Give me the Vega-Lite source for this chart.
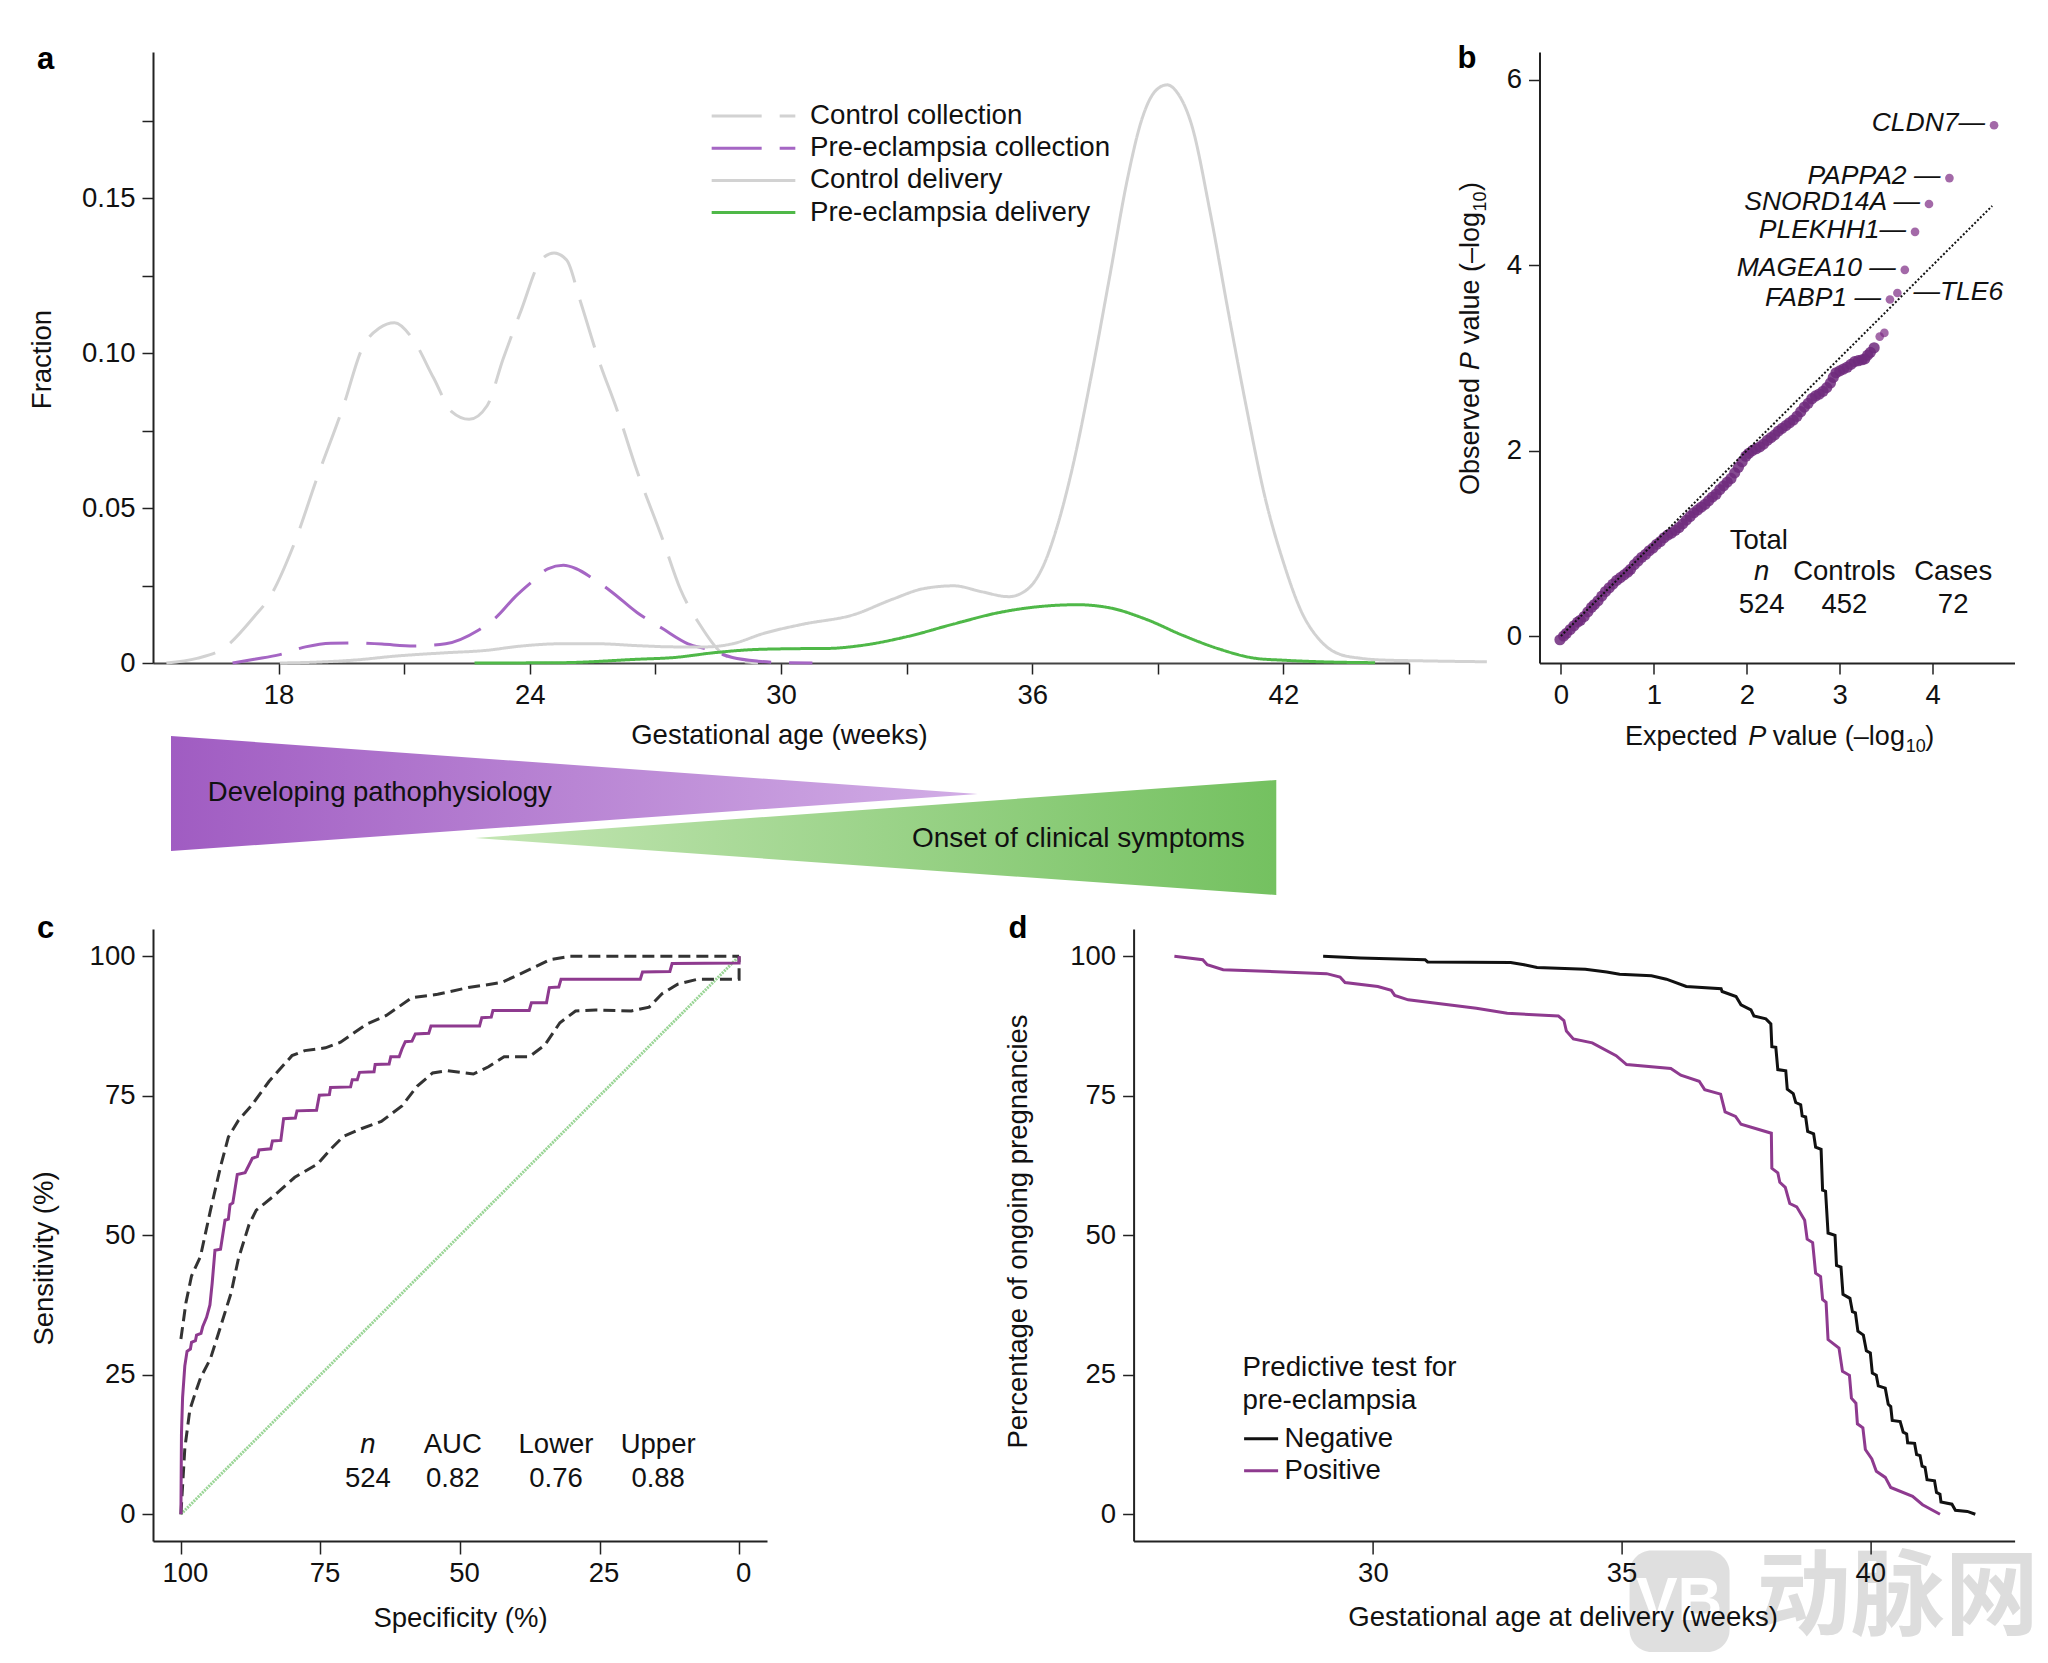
{
  "$schema": "https://vega.github.io/schema/vega-lite/v6.json",
  "padding": {"left": 28, "top": 43, "right": 0, "bottom": 0},
  "background": "white",
  "spacing": 17,
  "resolve": {
    "scale": {"color": "independent", "strokeDash": "independent"},
    "legend": {"color": "independent", "strokeDash": "independent"}
  },
  "config": {
    "font": "Liberation Sans",
    "view": {"stroke": null},
    "axis": {
      "grid": false,
      "domainColor": "#222222",
      "domainWidth": 2,
      "tickColor": "#222222",
      "tickWidth": 1.5,
      "tickSize": 11,
      "labelFontSize": 27.5,
      "labelColor": "#111111",
      "labelPadding": 7,
      "labelFlush": false,
      "labelOverlap": false,
      "titleFontSize": 27.5,
      "titleFontWeight": "normal",
      "titleColor": "#111111",
      "titleBaseline": "middle"
    },
    "text": {"fontSize": 27.5, "color": "#111111"},
    "title": {"fontSize": 31, "fontWeight": "bold", "color": "#000000", "anchor": "start", "frame": "group", "baseline": "alphabetic", "offset": 0}
  },
  "datasets": {
    "densities": [
      {"series": "Control collection", "week": 15.32, "fraction": 0},
      {"series": "Control collection", "week": 16.05, "fraction": 0.0015},
      {"series": "Control collection", "week": 16.66, "fraction": 0.0045},
      {"series": "Control collection", "week": 17.42, "fraction": 0.015},
      {"series": "Control collection", "week": 17.8, "fraction": 0.0215},
      {"series": "Control collection", "week": 18.33, "fraction": 0.037},
      {"series": "Control collection", "week": 18.94, "fraction": 0.0605},
      {"series": "Control collection", "week": 19.55, "fraction": 0.083},
      {"series": "Control collection", "week": 20.0, "fraction": 0.1016},
      {"series": "Control collection", "week": 20.4, "fraction": 0.108},
      {"series": "Control collection", "week": 20.77, "fraction": 0.1098},
      {"series": "Control collection", "week": 21.2, "fraction": 0.1046},
      {"series": "Control collection", "week": 21.7, "fraction": 0.092},
      {"series": "Control collection", "week": 22.14, "fraction": 0.081},
      {"series": "Control collection", "week": 22.55, "fraction": 0.0786},
      {"series": "Control collection", "week": 22.98, "fraction": 0.083},
      {"series": "Control collection", "week": 23.36, "fraction": 0.098},
      {"series": "Control collection", "week": 23.8, "fraction": 0.114},
      {"series": "Control collection", "week": 24.27, "fraction": 0.13},
      {"series": "Control collection", "week": 24.58, "fraction": 0.1323},
      {"series": "Control collection", "week": 24.88, "fraction": 0.13},
      {"series": "Control collection", "week": 25.2, "fraction": 0.117},
      {"series": "Control collection", "week": 25.64, "fraction": 0.098},
      {"series": "Control collection", "week": 26.1, "fraction": 0.081},
      {"series": "Control collection", "week": 26.56, "fraction": 0.062},
      {"series": "Control collection", "week": 27.17, "fraction": 0.04},
      {"series": "Control collection", "week": 27.6, "fraction": 0.0237},
      {"series": "Control collection", "week": 28.08, "fraction": 0.012},
      {"series": "Control collection", "week": 28.54, "fraction": 0.0037},
      {"series": "Control collection", "week": 29.0, "fraction": 0.0007},
      {"series": "Control collection", "week": 29.45, "fraction": 0},
      {"series": "Pre-eclampsia collection", "week": 16.9, "fraction": 0},
      {"series": "Pre-eclampsia collection", "week": 17.42, "fraction": 0.0012},
      {"series": "Pre-eclampsia collection", "week": 18.03, "fraction": 0.0027},
      {"series": "Pre-eclampsia collection", "week": 18.64, "fraction": 0.0052},
      {"series": "Pre-eclampsia collection", "week": 19.25, "fraction": 0.0064},
      {"series": "Pre-eclampsia collection", "week": 19.86, "fraction": 0.0065},
      {"series": "Pre-eclampsia collection", "week": 20.47, "fraction": 0.0061},
      {"series": "Pre-eclampsia collection", "week": 21.23, "fraction": 0.0055},
      {"series": "Pre-eclampsia collection", "week": 21.99, "fraction": 0.0062},
      {"series": "Pre-eclampsia collection", "week": 22.75, "fraction": 0.0104},
      {"series": "Pre-eclampsia collection", "week": 23.2, "fraction": 0.0148},
      {"series": "Pre-eclampsia collection", "week": 23.66, "fraction": 0.0215},
      {"series": "Pre-eclampsia collection", "week": 24.12, "fraction": 0.027},
      {"series": "Pre-eclampsia collection", "week": 24.43, "fraction": 0.0304},
      {"series": "Pre-eclampsia collection", "week": 24.8, "fraction": 0.0315},
      {"series": "Pre-eclampsia collection", "week": 25.11, "fraction": 0.0304},
      {"series": "Pre-eclampsia collection", "week": 25.49, "fraction": 0.0274},
      {"series": "Pre-eclampsia collection", "week": 25.95, "fraction": 0.023},
      {"series": "Pre-eclampsia collection", "week": 26.56, "fraction": 0.0163},
      {"series": "Pre-eclampsia collection", "week": 27.17, "fraction": 0.0111},
      {"series": "Pre-eclampsia collection", "week": 27.78, "fraction": 0.0062},
      {"series": "Pre-eclampsia collection", "week": 28.23, "fraction": 0.0045},
      {"series": "Pre-eclampsia collection", "week": 28.84, "fraction": 0.0018},
      {"series": "Pre-eclampsia collection", "week": 29.45, "fraction": 0.0006},
      {"series": "Pre-eclampsia collection", "week": 30.06, "fraction": 0.0001},
      {"series": "Pre-eclampsia collection", "week": 30.75, "fraction": 0},
      {"series": "Control delivery", "week": 18.03, "fraction": 0},
      {"series": "Control delivery", "week": 18.94, "fraction": 0.0003},
      {"series": "Control delivery", "week": 19.86, "fraction": 0.001},
      {"series": "Control delivery", "week": 20.77, "fraction": 0.0022},
      {"series": "Control delivery", "week": 21.99, "fraction": 0.0033},
      {"series": "Control delivery", "week": 22.9, "fraction": 0.004},
      {"series": "Control delivery", "week": 23.82, "fraction": 0.0055},
      {"series": "Control delivery", "week": 24.73, "fraction": 0.0062},
      {"series": "Control delivery", "week": 25.64, "fraction": 0.0062},
      {"series": "Control delivery", "week": 26.56, "fraction": 0.0056},
      {"series": "Control delivery", "week": 27.47, "fraction": 0.0052},
      {"series": "Control delivery", "week": 28.23, "fraction": 0.0052},
      {"series": "Control delivery", "week": 28.84, "fraction": 0.0062},
      {"series": "Control delivery", "week": 29.6, "fraction": 0.0096},
      {"series": "Control delivery", "week": 30.52, "fraction": 0.0125},
      {"series": "Control delivery", "week": 31.74, "fraction": 0.0156},
      {"series": "Control delivery", "week": 32.65, "fraction": 0.0205},
      {"series": "Control delivery", "week": 33.41, "fraction": 0.024},
      {"series": "Control delivery", "week": 34.13, "fraction": 0.0249},
      {"series": "Control delivery", "week": 34.79, "fraction": 0.023},
      {"series": "Control delivery", "week": 35.44, "fraction": 0.0214},
      {"series": "Control delivery", "week": 35.88, "fraction": 0.0237},
      {"series": "Control delivery", "week": 36.26, "fraction": 0.0312},
      {"series": "Control delivery", "week": 36.64, "fraction": 0.046},
      {"series": "Control delivery", "week": 36.97, "fraction": 0.0635},
      {"series": "Control delivery", "week": 37.41, "fraction": 0.0925},
      {"series": "Control delivery", "week": 37.85, "fraction": 0.1246},
      {"series": "Control delivery", "week": 38.28, "fraction": 0.1565},
      {"series": "Control delivery", "week": 38.61, "fraction": 0.175},
      {"series": "Control delivery", "week": 38.94, "fraction": 0.1845},
      {"series": "Control delivery", "week": 39.22, "fraction": 0.1865},
      {"series": "Control delivery", "week": 39.49, "fraction": 0.1835},
      {"series": "Control delivery", "week": 39.81, "fraction": 0.1735},
      {"series": "Control delivery", "week": 40.25, "fraction": 0.1454},
      {"series": "Control delivery", "week": 40.69, "fraction": 0.1128},
      {"series": "Control delivery", "week": 41.13, "fraction": 0.0815},
      {"series": "Control delivery", "week": 41.56, "fraction": 0.0535},
      {"series": "Control delivery", "week": 42.0, "fraction": 0.0325},
      {"series": "Control delivery", "week": 42.44, "fraction": 0.0163},
      {"series": "Control delivery", "week": 42.87, "fraction": 0.0074},
      {"series": "Control delivery", "week": 43.31, "fraction": 0.003},
      {"series": "Control delivery", "week": 43.86, "fraction": 0.0015},
      {"series": "Control delivery", "week": 44.3, "fraction": 0.001},
      {"series": "Control delivery", "week": 45.28, "fraction": 0.0007},
      {"series": "Control delivery", "week": 46.86, "fraction": 0.0004},
      {"series": "Pre-eclampsia delivery", "week": 22.68, "fraction": 0},
      {"series": "Pre-eclampsia delivery", "week": 24.73, "fraction": 0.0001},
      {"series": "Pre-eclampsia delivery", "week": 26.56, "fraction": 0.0012},
      {"series": "Pre-eclampsia delivery", "week": 27.47, "fraction": 0.0018},
      {"series": "Pre-eclampsia delivery", "week": 28.39, "fraction": 0.0033},
      {"series": "Pre-eclampsia delivery", "week": 29.3, "fraction": 0.0043},
      {"series": "Pre-eclampsia delivery", "week": 30.21, "fraction": 0.0046},
      {"series": "Pre-eclampsia delivery", "week": 31.13, "fraction": 0.0047},
      {"series": "Pre-eclampsia delivery", "week": 31.89, "fraction": 0.0056},
      {"series": "Pre-eclampsia delivery", "week": 33.04, "fraction": 0.0086},
      {"series": "Pre-eclampsia delivery", "week": 34.13, "fraction": 0.0126},
      {"series": "Pre-eclampsia delivery", "week": 35.22, "fraction": 0.0163},
      {"series": "Pre-eclampsia delivery", "week": 36.1, "fraction": 0.0181},
      {"series": "Pre-eclampsia delivery", "week": 37.08, "fraction": 0.0188},
      {"series": "Pre-eclampsia delivery", "week": 37.85, "fraction": 0.0178},
      {"series": "Pre-eclampsia delivery", "week": 38.72, "fraction": 0.0141},
      {"series": "Pre-eclampsia delivery", "week": 39.6, "fraction": 0.0089},
      {"series": "Pre-eclampsia delivery", "week": 40.47, "fraction": 0.0045},
      {"series": "Pre-eclampsia delivery", "week": 41.34, "fraction": 0.0015},
      {"series": "Pre-eclampsia delivery", "week": 42.0, "fraction": 0.0009},
      {"series": "Pre-eclampsia delivery", "week": 42.87, "fraction": 0.0004},
      {"series": "Pre-eclampsia delivery", "week": 44.19, "fraction": 0.0001}
    ],
    "qq": [
      {"x": -0.01, "y": -0.04}, {"x": 0.03, "y": 0}, {"x": 0.06, "y": 0.03}, {"x": 0.1, "y": 0.07}, {"x": 0.14, "y": 0.11},
      {"x": 0.18, "y": 0.15}, {"x": 0.21, "y": 0.17}, {"x": 0.25, "y": 0.21}, {"x": 0.29, "y": 0.26}, {"x": 0.33, "y": 0.31},
      {"x": 0.36, "y": 0.34}, {"x": 0.4, "y": 0.38}, {"x": 0.44, "y": 0.43}, {"x": 0.48, "y": 0.48}, {"x": 0.52, "y": 0.52},
      {"x": 0.56, "y": 0.56}, {"x": 0.6, "y": 0.6}, {"x": 0.64, "y": 0.63}, {"x": 0.68, "y": 0.66}, {"x": 0.72, "y": 0.69},
      {"x": 0.75, "y": 0.72}, {"x": 0.79, "y": 0.77}, {"x": 0.83, "y": 0.81}, {"x": 0.87, "y": 0.85}, {"x": 0.91, "y": 0.88},
      {"x": 0.95, "y": 0.92}, {"x": 0.99, "y": 0.95}, {"x": 1.03, "y": 0.99}, {"x": 1.07, "y": 1.02}, {"x": 1.11, "y": 1.06},
      {"x": 1.15, "y": 1.09}, {"x": 1.19, "y": 1.11}, {"x": 1.23, "y": 1.14}, {"x": 1.27, "y": 1.17}, {"x": 1.31, "y": 1.21},
      {"x": 1.35, "y": 1.25}, {"x": 1.39, "y": 1.29}, {"x": 1.43, "y": 1.33}, {"x": 1.47, "y": 1.36}, {"x": 1.51, "y": 1.39},
      {"x": 1.55, "y": 1.42}, {"x": 1.59, "y": 1.46}, {"x": 1.63, "y": 1.5}, {"x": 1.67, "y": 1.53}, {"x": 1.71, "y": 1.58},
      {"x": 1.75, "y": 1.62}, {"x": 1.79, "y": 1.66}, {"x": 1.83, "y": 1.7}, {"x": 1.87, "y": 1.76}, {"x": 1.91, "y": 1.82},
      {"x": 1.95, "y": 1.88}, {"x": 1.99, "y": 1.94}, {"x": 2.02, "y": 1.97}, {"x": 2.06, "y": 2}, {"x": 2.1, "y": 2.02},
      {"x": 2.14, "y": 2.04}, {"x": 2.18, "y": 2.07}, {"x": 2.22, "y": 2.11}, {"x": 2.26, "y": 2.14}, {"x": 2.3, "y": 2.17},
      {"x": 2.34, "y": 2.21}, {"x": 2.38, "y": 2.24}, {"x": 2.42, "y": 2.27}, {"x": 2.46, "y": 2.3}, {"x": 2.5, "y": 2.33},
      {"x": 2.54, "y": 2.37}, {"x": 2.58, "y": 2.42}, {"x": 2.62, "y": 2.47}, {"x": 2.66, "y": 2.51}, {"x": 2.7, "y": 2.56},
      {"x": 2.74, "y": 2.59}, {"x": 2.78, "y": 2.61}, {"x": 2.82, "y": 2.64}, {"x": 2.86, "y": 2.68}, {"x": 2.9, "y": 2.73},
      {"x": 2.93, "y": 2.79}, {"x": 2.96, "y": 2.84}, {"x": 3.0, "y": 2.86}, {"x": 3.04, "y": 2.88}, {"x": 3.08, "y": 2.9},
      {"x": 3.12, "y": 2.93}, {"x": 3.16, "y": 2.96}, {"x": 3.2, "y": 2.97}, {"x": 3.24, "y": 2.98}, {"x": 3.27, "y": 2.99},
      {"x": 3.3, "y": 3.03}, {"x": 3.33, "y": 3.06}, {"x": 3.37, "y": 3.11}, {"x": 3.43, "y": 3.23}, {"x": 3.48, "y": 3.27},
      {"x": 3.54, "y": 3.63}, {"x": 3.62, "y": 3.7}, {"x": 3.7, "y": 3.95}, {"x": 3.81, "y": 4.36}, {"x": 3.96, "y": 4.66},
      {"x": 4.18, "y": 4.94}, {"x": 4.66, "y": 5.51}
    ],
    "roc": [
      {"x": 100, "y": 0}, {"x": 99.9, "y": 14.4}, {"x": 99.7, "y": 20.9}, {"x": 99.3, "y": 26.6}, {"x": 98.9, "y": 29.2},
      {"x": 98.3, "y": 29.6}, {"x": 98.1, "y": 30.8}, {"x": 97.4, "y": 31.1}, {"x": 97.2, "y": 32.1}, {"x": 96.4, "y": 32.4},
      {"x": 96.1, "y": 33.6}, {"x": 95.4, "y": 35.3}, {"x": 94.8, "y": 37.5}, {"x": 94.4, "y": 41.4}, {"x": 93.9, "y": 47.3},
      {"x": 92.9, "y": 47.5}, {"x": 92.1, "y": 52.7}, {"x": 91.5, "y": 52.9}, {"x": 91.2, "y": 55.5}, {"x": 90.7, "y": 55.8},
      {"x": 89.9, "y": 60.9}, {"x": 88.5, "y": 61.2}, {"x": 87.8, "y": 62.6}, {"x": 87.2, "y": 63.8}, {"x": 86.3, "y": 64.1},
      {"x": 86, "y": 65.3}, {"x": 83.9, "y": 65.5}, {"x": 83.6, "y": 66.9}, {"x": 82.1, "y": 67}, {"x": 81.6, "y": 70.9},
      {"x": 79.5, "y": 71}, {"x": 79.2, "y": 72.3}, {"x": 75.7, "y": 72.4}, {"x": 75.2, "y": 75.1}, {"x": 73.4, "y": 75.2},
      {"x": 73.2, "y": 76.5}, {"x": 69.6, "y": 76.6}, {"x": 69.3, "y": 77.9}, {"x": 68.4, "y": 77.9}, {"x": 68, "y": 79.2},
      {"x": 65.4, "y": 79.3}, {"x": 65.2, "y": 80.6}, {"x": 62.7, "y": 80.7}, {"x": 62.4, "y": 82}, {"x": 60.9, "y": 82},
      {"x": 60.4, "y": 83.4}, {"x": 59.8, "y": 84.7}, {"x": 58.6, "y": 84.8}, {"x": 58, "y": 86.1}, {"x": 55.6, "y": 86.2},
      {"x": 55.2, "y": 87.5}, {"x": 46.5, "y": 87.5}, {"x": 46.1, "y": 89}, {"x": 44.4, "y": 89.1}, {"x": 44.1, "y": 90.3},
      {"x": 37.6, "y": 90.3}, {"x": 37.2, "y": 91.7}, {"x": 34.5, "y": 91.7}, {"x": 34, "y": 94.4}, {"x": 32.3, "y": 94.5},
      {"x": 31.9, "y": 95.9}, {"x": 17.7, "y": 95.9}, {"x": 17.3, "y": 97.2}, {"x": 12.4, "y": 97.3}, {"x": 12, "y": 98.7},
      {"x": 0, "y": 98.8}, {"x": 0, "y": 100}
    ],
    "rocUpper": [
      {"x": 100, "y": 31.4}, {"x": 99.1, "y": 37.9}, {"x": 98.1, "y": 42.7}, {"x": 96.5, "y": 46.2}, {"x": 94.7, "y": 54.5},
      {"x": 92.9, "y": 62.3}, {"x": 91.5, "y": 67.6}, {"x": 89.7, "y": 70.6}, {"x": 87.4, "y": 73.2}, {"x": 84.2, "y": 77.6},
      {"x": 80.1, "y": 82.2}, {"x": 77.8, "y": 83.1}, {"x": 74.1, "y": 83.6}, {"x": 71.4, "y": 84.6}, {"x": 66.8, "y": 87.8},
      {"x": 63.2, "y": 89.4}, {"x": 58.6, "y": 92.6}, {"x": 54, "y": 93.2}, {"x": 48.5, "y": 94.4}, {"x": 42.6, "y": 95.3},
      {"x": 37.6, "y": 97.6}, {"x": 33.9, "y": 99.4}, {"x": 30.3, "y": 100}, {"x": 0, "y": 100}
    ],
    "rocLower": [
      {"x": 100, "y": 0}, {"x": 99.3, "y": 11.8}, {"x": 98.4, "y": 18.7}, {"x": 97.4, "y": 21.8}, {"x": 96.5, "y": 24.4},
      {"x": 94.7, "y": 27.9}, {"x": 92.9, "y": 33.6}, {"x": 91, "y": 39.7}, {"x": 89.7, "y": 45.8}, {"x": 87.8, "y": 51.9},
      {"x": 86.5, "y": 54.5}, {"x": 83.3, "y": 57.1}, {"x": 79.6, "y": 60.4}, {"x": 75.5, "y": 62.8}, {"x": 73.2, "y": 65.4},
      {"x": 70.9, "y": 67.7}, {"x": 67.7, "y": 69.1}, {"x": 64.1, "y": 70.4}, {"x": 60.4, "y": 73.2}, {"x": 57.7, "y": 76.7},
      {"x": 54.9, "y": 79.1}, {"x": 52.2, "y": 79.5}, {"x": 47.6, "y": 78.9}, {"x": 44.9, "y": 80.2}, {"x": 42.1, "y": 82},
      {"x": 37.6, "y": 82}, {"x": 34.8, "y": 84.1}, {"x": 32.1, "y": 88.1}, {"x": 29.3, "y": 90.2}, {"x": 25.7, "y": 90.4},
      {"x": 19.3, "y": 90.2}, {"x": 16.1, "y": 90.9}, {"x": 13.8, "y": 93.3}, {"x": 11, "y": 95}, {"x": 7.4, "y": 95.9},
      {"x": 0, "y": 95.9}, {"x": 0, "y": 100}
    ],
    "ongoing": [
      {"test": "Negative", "x": 29, "y": 100}, {"test": "Negative", "x": 29.75, "y": 99.7}, {"test": "Negative", "x": 31.05, "y": 99.4},
      {"test": "Negative", "x": 31.1, "y": 99}, {"test": "Negative", "x": 32.77, "y": 98.9}, {"test": "Negative", "x": 33.04, "y": 98.5},
      {"test": "Negative", "x": 33.3, "y": 98}, {"test": "Negative", "x": 34.27, "y": 97.7}, {"test": "Negative", "x": 34.7, "y": 97.2},
      {"test": "Negative", "x": 34.96, "y": 96.8}, {"test": "Negative", "x": 35.6, "y": 96.5}, {"test": "Negative", "x": 35.9, "y": 95.9},
      {"test": "Negative", "x": 36.3, "y": 94.6}, {"test": "Negative", "x": 37, "y": 94.2}, {"test": "Negative", "x": 37.02, "y": 93.7},
      {"test": "Negative", "x": 37.3, "y": 92.8}, {"test": "Negative", "x": 37.4, "y": 91.3}, {"test": "Negative", "x": 37.6, "y": 90.4},
      {"test": "Negative", "x": 37.66, "y": 89.3}, {"test": "Negative", "x": 37.9, "y": 88.8}, {"test": "Negative", "x": 38, "y": 87.9},
      {"test": "Negative", "x": 38.02, "y": 83.8}, {"test": "Negative", "x": 38.1, "y": 83.7}, {"test": "Negative", "x": 38.14, "y": 79.7},
      {"test": "Negative", "x": 38.3, "y": 79.5}, {"test": "Negative", "x": 38.33, "y": 76.2}, {"test": "Negative", "x": 38.45, "y": 75.4},
      {"test": "Negative", "x": 38.5, "y": 73.8}, {"test": "Negative", "x": 38.6, "y": 73.4}, {"test": "Negative", "x": 38.63, "y": 71.4},
      {"test": "Negative", "x": 38.7, "y": 71.2}, {"test": "Negative", "x": 38.74, "y": 68.6}, {"test": "Negative", "x": 38.86, "y": 68.2},
      {"test": "Negative", "x": 38.9, "y": 65.8}, {"test": "Negative", "x": 39.01, "y": 65.4}, {"test": "Negative", "x": 39.04, "y": 58.1},
      {"test": "Negative", "x": 39.1, "y": 57.9}, {"test": "Negative", "x": 39.15, "y": 50.4}, {"test": "Negative", "x": 39.29, "y": 50},
      {"test": "Negative", "x": 39.32, "y": 44.6}, {"test": "Negative", "x": 39.41, "y": 44.3}, {"test": "Negative", "x": 39.45, "y": 39.4},
      {"test": "Negative", "x": 39.59, "y": 38.7}, {"test": "Negative", "x": 39.64, "y": 36.3}, {"test": "Negative", "x": 39.7, "y": 36.1},
      {"test": "Negative", "x": 39.75, "y": 32.8}, {"test": "Negative", "x": 39.86, "y": 32.1}, {"test": "Negative", "x": 39.92, "y": 29.3},
      {"test": "Negative", "x": 40, "y": 28.9}, {"test": "Negative", "x": 40.04, "y": 25.3}, {"test": "Negative", "x": 40.12, "y": 24.9},
      {"test": "Negative", "x": 40.16, "y": 23}, {"test": "Negative", "x": 40.3, "y": 22.6}, {"test": "Negative", "x": 40.36, "y": 19.7},
      {"test": "Negative", "x": 40.41, "y": 19.3}, {"test": "Negative", "x": 40.44, "y": 16.8}, {"test": "Negative", "x": 40.6, "y": 16.6},
      {"test": "Negative", "x": 40.66, "y": 14.7}, {"test": "Negative", "x": 40.73, "y": 14.4}, {"test": "Negative", "x": 40.75, "y": 12.8},
      {"test": "Negative", "x": 40.89, "y": 12.7}, {"test": "Negative", "x": 40.93, "y": 10.7}, {"test": "Negative", "x": 41, "y": 10.5},
      {"test": "Negative", "x": 41.04, "y": 8.6}, {"test": "Negative", "x": 41.1, "y": 8.4}, {"test": "Negative", "x": 41.14, "y": 6.2},
      {"test": "Negative", "x": 41.29, "y": 6}, {"test": "Negative", "x": 41.33, "y": 3.9}, {"test": "Negative", "x": 41.4, "y": 3.6},
      {"test": "Negative", "x": 41.42, "y": 2.2}, {"test": "Negative", "x": 41.64, "y": 1.8}, {"test": "Negative", "x": 41.71, "y": 0.7},
      {"test": "Negative", "x": 41.95, "y": 0.5}, {"test": "Negative", "x": 42.11, "y": 0},
      {"test": "Positive", "x": 26.01, "y": 100}, {"test": "Positive", "x": 26.58, "y": 99.4}, {"test": "Positive", "x": 26.67, "y": 98.5},
      {"test": "Positive", "x": 26.99, "y": 97.6}, {"test": "Positive", "x": 29.07, "y": 96.9}, {"test": "Positive", "x": 29.34, "y": 96.3},
      {"test": "Positive", "x": 29.44, "y": 95.3}, {"test": "Positive", "x": 30.1, "y": 94.6}, {"test": "Positive", "x": 30.37, "y": 93.9},
      {"test": "Positive", "x": 30.44, "y": 93}, {"test": "Positive", "x": 30.71, "y": 92.2}, {"test": "Positive", "x": 32.08, "y": 90.7},
      {"test": "Positive", "x": 32.7, "y": 89.8}, {"test": "Positive", "x": 33.73, "y": 89.3}, {"test": "Positive", "x": 33.84, "y": 88.5},
      {"test": "Positive", "x": 33.89, "y": 86.6}, {"test": "Positive", "x": 34.03, "y": 85.2}, {"test": "Positive", "x": 34.41, "y": 84.5},
      {"test": "Positive", "x": 34.89, "y": 82.2}, {"test": "Positive", "x": 35.1, "y": 80.6}, {"test": "Positive", "x": 35.99, "y": 79.9},
      {"test": "Positive", "x": 36.19, "y": 78.7}, {"test": "Positive", "x": 36.56, "y": 77.6}, {"test": "Positive", "x": 36.67, "y": 76.1},
      {"test": "Positive", "x": 36.99, "y": 75.3}, {"test": "Positive", "x": 37.08, "y": 72.1}, {"test": "Positive", "x": 37.29, "y": 71.3},
      {"test": "Positive", "x": 37.4, "y": 69.9}, {"test": "Positive", "x": 38.01, "y": 68.3}, {"test": "Positive", "x": 38.02, "y": 62},
      {"test": "Positive", "x": 38.14, "y": 61.2}, {"test": "Positive", "x": 38.18, "y": 59.5}, {"test": "Positive", "x": 38.29, "y": 58.6},
      {"test": "Positive", "x": 38.38, "y": 55.7}, {"test": "Positive", "x": 38.52, "y": 55.1}, {"test": "Positive", "x": 38.68, "y": 52.7},
      {"test": "Positive", "x": 38.73, "y": 49.3}, {"test": "Positive", "x": 38.84, "y": 48.7}, {"test": "Positive", "x": 38.9, "y": 43.2},
      {"test": "Positive", "x": 39, "y": 42.6}, {"test": "Positive", "x": 39.04, "y": 38.5}, {"test": "Positive", "x": 39.11, "y": 38},
      {"test": "Positive", "x": 39.15, "y": 31.3}, {"test": "Positive", "x": 39.37, "y": 29.8}, {"test": "Positive", "x": 39.44, "y": 25.6},
      {"test": "Positive", "x": 39.58, "y": 24.9}, {"test": "Positive", "x": 39.62, "y": 20.8}, {"test": "Positive", "x": 39.71, "y": 19.9},
      {"test": "Positive", "x": 39.74, "y": 16.2}, {"test": "Positive", "x": 39.85, "y": 15.5}, {"test": "Positive", "x": 39.9, "y": 11.6},
      {"test": "Positive", "x": 40.03, "y": 9.9}, {"test": "Positive", "x": 40.12, "y": 7.7}, {"test": "Positive", "x": 40.3, "y": 6.6},
      {"test": "Positive", "x": 40.41, "y": 4.8}, {"test": "Positive", "x": 40.85, "y": 3.2}, {"test": "Positive", "x": 41.05, "y": 1.7},
      {"test": "Positive", "x": 41.4, "y": 0}
    ]
  },
  "vconcat": [
    {
      "bounds": "flush",
      "spacing": 130.5,
      "resolve": {
        "scale": {"color": "independent", "strokeDash": "independent"},
        "legend": {"color": "independent", "strokeDash": "independent"}
      },
      "hconcat": [
        {
          "title": {"text": "a", "dx": -116, "dy": 28},
          "width": 1256,
          "height": 611,
          "encoding": {
            "x": {
              "field": "week", "type": "quantitative",
              "scale": {"domain": [15, 45], "nice": false, "zero": false},
              "axis": {
                "title": "Gestational age (weeks)", "titleX": 626, "titleY": 72,
                "values": [18, 21, 24, 27, 30, 33, 36, 39, 42, 45],
                "labelExpr": "datum.value % 6 == 0 ? datum.value : ''",
                "domainColor": "#444444"
              }
            },
            "y": {
              "field": "fraction", "type": "quantitative",
              "scale": {"domain": [0, 0.1971], "nice": false},
              "axis": {
                "title": "Fraction", "titleX": -111, "titleY": 307,
                "values": [0, 0.025, 0.05, 0.075, 0.1, 0.125, 0.15, 0.175],
                "labelExpr": "datum.value == 0 ? '0' : (round(datum.value * 1000) % 50 == 0 ? format(datum.value, '.2f') : '')"
              }
            }
          },
          "layer": [
            {
              "data": {"values": [
                {"week": 15.43, "fraction": -0.06065, "upper": -0.02355},
                {"week": 34.7, "fraction": -0.04226, "upper": -0.04226}
              ]},
              "mark": {
                "type": "area",
                "fill": {"gradient": "linear", "x1": 0, "x2": 1, "y1": 0, "y2": 0, "stops": [{"offset": 0, "color": "#a05cc2"}, {"offset": 1, "color": "#d2aee6"}]}
              },
              "encoding": {"y2": {"field": "upper"}}
            },
            {
              "data": {"values": [
                {"week": 22.69, "fraction": -0.05645, "upper": -0.05645},
                {"week": 41.83, "fraction": -0.07484, "upper": -0.03774}
              ]},
              "mark": {
                "type": "area",
                "fill": {"gradient": "linear", "x1": 0, "x2": 1, "y1": 0, "y2": 0, "stops": [{"offset": 0, "color": "#c4e6b4"}, {"offset": 1, "color": "#74c160"}]}
              },
              "encoding": {"y2": {"field": "upper"}}
            },
            {
              "data": {"values": [{"label": "Developing pathophysiology", "week": 16.31, "fraction": -0.04194}]},
              "mark": {"type": "text", "align": "left", "baseline": "middle"},
              "encoding": {"text": {"field": "label"}}
            },
            {
              "data": {"values": [{"label": "Onset of clinical symptoms", "week": 41.08, "fraction": -0.05677}]},
              "mark": {"type": "text", "align": "right", "baseline": "middle", "fontSize": 28},
              "encoding": {"text": {"field": "label"}}
            },
            {
              "data": {"name": "densities"},
              "mark": {"type": "line", "interpolate": "monotone", "strokeWidth": 3},
              "encoding": {
                "color": {
                  "field": "series", "type": "nominal",
                  "scale": {
                    "domain": ["Control collection", "Pre-eclampsia collection", "Control delivery", "Pre-eclampsia delivery"],
                    "range": ["#d2d2d2", "#a566c4", "#d2d2d2", "#4fb848"]
                  },
                  "legend": {
                    "title": null, "orient": "none", "legendX": 557, "legendY": 52,
                    "symbolType": "stroke", "symbolSize": 7000, "symbolStrokeWidth": 3,
                    "clipHeight": 24, "rowPadding": 4.2, "labelFontSize": 27.7, "labelColor": "#111111", "labelOffset": 13,
                    "labelLimit": 400,
                    "encoding": {"symbols": {"update": {"strokeDash": {"signal": "indexof(datum.value, 'collection') >= 0 ? [29, 27] : [1, 0]"}}}}
                  }
                },
                "strokeDash": {
                  "field": "series", "type": "nominal",
                  "scale": {
                    "domain": ["Control collection", "Pre-eclampsia collection", "Control delivery", "Pre-eclampsia delivery"],
                    "range": [[50, 18], [50, 18], [1, 0], [1, 0]]
                  },
                  "legend": null
                }
              }
            }
          ]
        },
        {
          "title": {"text": "b", "dx": -82, "dy": 27},
          "width": 475,
          "height": 611,
          "encoding": {
            "x": {
              "field": "x", "type": "quantitative",
              "scale": {"domain": [-0.23, 4.88], "nice": false, "zero": false},
              "axis": {"title": null, "values": [0, 1, 2, 3, 4]}
            },
            "y": {
              "field": "y", "type": "quantitative",
              "scale": {"domain": [-0.291, 6.3], "nice": false, "zero": false},
              "axis": {"title": null, "values": [0, 2, 4, 6]}
            }
          },
          "layer": [
            {
              "data": {"name": "qq"},
              "transform": [{"filter": "datum.x < 3.4"}],
              "mark": {"type": "circle", "size": 125, "color": "#6f2a7c", "opacity": 0.85}
            },
            {
              "data": {"name": "qq"},
              "transform": [{"filter": "datum.x >= 3.4"}],
              "mark": {"type": "circle", "size": 75, "color": "#7f2f86", "opacity": 0.72}
            },
            {
              "data": {"values": [{"x": 0, "y": 0}, {"x": 4.64, "y": 4.64}]},
              "mark": {"type": "line", "color": "#111111", "strokeWidth": 2, "strokeDash": [2, 2]}
            },
            {
              "data": {"values": [
                {"label": "CLDN7—", "x": 4.66, "y": 5.51},
                {"label": "PAPPA2 —", "x": 4.18, "y": 4.94},
                {"label": "SNORD14A —", "x": 3.96, "y": 4.66},
                {"label": "PLEKHH1—", "x": 3.81, "y": 4.36},
                {"label": "MAGEA10 —", "x": 3.7, "y": 3.95},
                {"label": "FABP1 —", "x": 3.54, "y": 3.63}
              ]},
              "mark": {"type": "text", "align": "right", "baseline": "middle", "fontStyle": "italic", "fontSize": 26.5, "dx": -9, "dy": -2},
              "encoding": {"text": {"field": "label"}}
            },
            {
              "data": {"values": [{"label": "—TLE6", "x": 3.62, "y": 3.7}]},
              "mark": {"type": "text", "align": "left", "baseline": "middle", "fontStyle": "italic", "fontSize": 26.5, "dx": 16, "dy": -1},
              "encoding": {"text": {"field": "label"}}
            },
            {
              "data": {"values": [
                {"label": "Total", "x": 2.13, "y": 1.02},
                {"label": "Controls", "x": 3.05, "y": 0.69},
                {"label": "Cases", "x": 4.22, "y": 0.69},
                {"label": "524", "x": 2.16, "y": 0.33},
                {"label": "452", "x": 3.05, "y": 0.33},
                {"label": "72", "x": 4.22, "y": 0.33}
              ]},
              "mark": {"type": "text", "align": "center", "baseline": "middle"},
              "encoding": {"text": {"field": "label"}}
            },
            {
              "data": {"values": [{"label": "n", "x": 2.16, "y": 0.69}]},
              "mark": {"type": "text", "align": "center", "baseline": "middle", "fontStyle": "italic"},
              "encoding": {"text": {"field": "label"}}
            },
            {
              "data": {"values": [
                {"label": "Expected", "x": 0.69, "y": -1.086},
                {"label": "value (–log", "x": 2.28, "y": -1.086},
                {"label": ")", "x": 3.92, "y": -1.086}
              ]},
              "mark": {"type": "text", "align": "left", "baseline": "middle", "fontSize": 27},
              "encoding": {"text": {"field": "label"}}
            },
            {
              "data": {"values": [{"label": "10", "x": 3.71, "y": -1.086}]},
              "mark": {"type": "text", "align": "left", "baseline": "middle", "fontSize": 18, "dy": 10},
              "encoding": {"text": {"field": "label"}}
            },
            {
              "data": {"values": [{"label": "P", "x": 2.015, "y": -1.086}]},
              "mark": {"type": "text", "align": "left", "baseline": "middle", "fontStyle": "italic", "fontSize": 27},
              "encoding": {"text": {"field": "label"}}
            },
            {
              "data": {"values": [
                {"label": "Observed", "x": -0.97, "y": 1.52},
                {"label": "value (–log", "x": -0.97, "y": 3.15},
                {"label": ")", "x": -0.97, "y": 4.8}
              ]},
              "mark": {"type": "text", "align": "left", "baseline": "middle", "angle": 270, "fontSize": 27},
              "encoding": {"text": {"field": "label"}}
            },
            {
              "data": {"values": [{"label": "10", "x": -0.97, "y": 4.58}]},
              "mark": {"type": "text", "align": "left", "baseline": "middle", "angle": 270, "fontSize": 18, "dy": 10},
              "encoding": {"text": {"field": "label"}}
            },
            {
              "data": {"values": [{"label": "P", "x": -0.97, "y": 2.87}]},
              "mark": {"type": "text", "align": "left", "baseline": "middle", "angle": 270, "fontStyle": "italic", "fontSize": 27},
              "encoding": {"text": {"field": "label"}}
            }
          ]
        }
      ]
    },
    {
      "bounds": "flush",
      "spacing": 366.6,
      "resolve": {
        "scale": {"color": "independent", "strokeDash": "independent"},
        "legend": {"color": "independent", "strokeDash": "independent"}
      },
      "hconcat": [
        {
          "title": {"text": "c", "dx": -116, "dy": 20},
          "width": 614,
          "height": 612,
          "encoding": {
            "x": {
              "field": "x", "type": "quantitative",
              "scale": {"domain": [105, -5], "nice": false, "zero": false},
              "axis": {"title": "Specificity (%)", "titleX": 307, "titleY": 77, "values": [100, 75, 50, 25, 0], "tickSize": 13, "labelOffset": 4, "labelPadding": 5}
            },
            "y": {
              "field": "y", "type": "quantitative",
              "scale": {"domain": [-4.8, 104.9], "nice": false, "zero": false},
              "axis": {"title": "Sensitivity (%)", "titleX": -109, "titleY": 329, "values": [0, 25, 50, 75, 100]}
            }
          },
          "layer": [
            {
              "data": {"values": [{"x": 100, "y": 0}, {"x": 0, "y": 100}]},
              "mark": {"type": "line", "color": "#9ad596", "strokeWidth": 3, "strokeDash": [2, 1]}
            },
            {
              "data": {"name": "rocUpper"},
              "mark": {"type": "line", "color": "#333333", "strokeWidth": 3, "strokeDash": [12, 6]}
            },
            {
              "data": {"name": "rocLower"},
              "mark": {"type": "line", "color": "#333333", "strokeWidth": 3, "strokeDash": [12, 6]}
            },
            {
              "data": {"name": "roc"},
              "mark": {"type": "line", "color": "#8e3a8f", "strokeWidth": 3}
            },
            {
              "data": {"values": [
                {"label": "AUC", "x": 51.3, "y": 12.4},
                {"label": "Lower", "x": 32.8, "y": 12.4},
                {"label": "Upper", "x": 14.5, "y": 12.4},
                {"label": "524", "x": 66.5, "y": 6.4},
                {"label": "0.82", "x": 51.3, "y": 6.4},
                {"label": "0.76", "x": 32.8, "y": 6.4},
                {"label": "0.88", "x": 14.5, "y": 6.4}
              ]},
              "mark": {"type": "text", "align": "center", "baseline": "middle"},
              "encoding": {"text": {"field": "label"}}
            },
            {
              "data": {"values": [{"label": "n", "x": 66.5, "y": 12.4}]},
              "mark": {"type": "text", "align": "center", "baseline": "middle", "fontStyle": "italic"},
              "encoding": {"text": {"field": "label"}}
            }
          ]
        },
        {
          "title": {"text": "d", "dx": -125, "dy": 20},
          "width": 881,
          "height": 612,
          "encoding": {
            "x": {
              "field": "x", "type": "quantitative",
              "scale": {"domain": [25.19, 42.9], "nice": false, "zero": false},
              "axis": {"title": "Gestational age at delivery (weeks)", "titleX": 429, "titleY": 76, "values": [30, 35, 40], "tickSize": 13, "labelPadding": 5, "zindex": 1}
            },
            "y": {
              "field": "y", "type": "quantitative",
              "scale": {"domain": [-4.8, 104.9], "nice": false, "zero": false},
              "axis": {"title": "Percentage of ongoing pregnancies", "titleX": -115, "titleY": 302, "values": [0, 25, 50, 75, 100]}
            }
          },
          "layer": [
            {
              "data": {"name": "ongoing"},
              "mark": {"type": "line", "strokeWidth": 3},
              "encoding": {
                "color": {
                  "field": "test", "type": "nominal",
                  "scale": {"domain": ["Negative", "Positive"], "range": ["#111111", "#8e3a8f"]},
                  "legend": {
                    "title": ["Predictive test for", "pre-eclampsia"], "orient": "none", "legendX": 109, "legendY": 425,
                    "titleFontSize": 27.7, "titleFontWeight": "normal", "titleColor": "#111111", "titleLineHeight": 33, "titlePadding": 12,
                    "symbolType": "stroke", "symbolSize": 1156, "symbolStrokeWidth": 3,
                    "clipHeight": 24, "rowPadding": 4, "labelFontSize": 27.5, "labelColor": "#111111", "labelOffset": 5,
                    "titleLimit": 400
                  }
                }
              }
            },
            {
              "data": {"values": [{"x": 35.16, "x2": 37.17, "y": -6.5, "y2": -24.7}]},
              "mark": {"type": "rect", "fill": "#d9d9d9", "opacity": 0.85, "cornerRadius": 22},
              "encoding": {"x2": {"field": "x2"}, "y2": {"field": "y2"}}
            },
            {
              "data": {"values": [{"label": "VB", "x": 36.16, "y": -15.6}]},
              "mark": {"type": "text", "fontSize": 62, "fontWeight": "bold", "color": "#ffffff", "align": "center", "baseline": "middle"},
              "encoding": {"text": {"field": "label"}}
            },
            {
              "data": {"values": [{"label": "动脉网", "x": 40.55, "y": -15.4}]},
              "mark": {"type": "text", "font": "Noto Sans CJK SC", "fontSize": 94, "fontWeight": "bold", "color": "#dddddd", "align": "center", "baseline": "middle"},
              "encoding": {"text": {"field": "label"}}
            }
          ]
        }
      ]
    }
  ]
}
